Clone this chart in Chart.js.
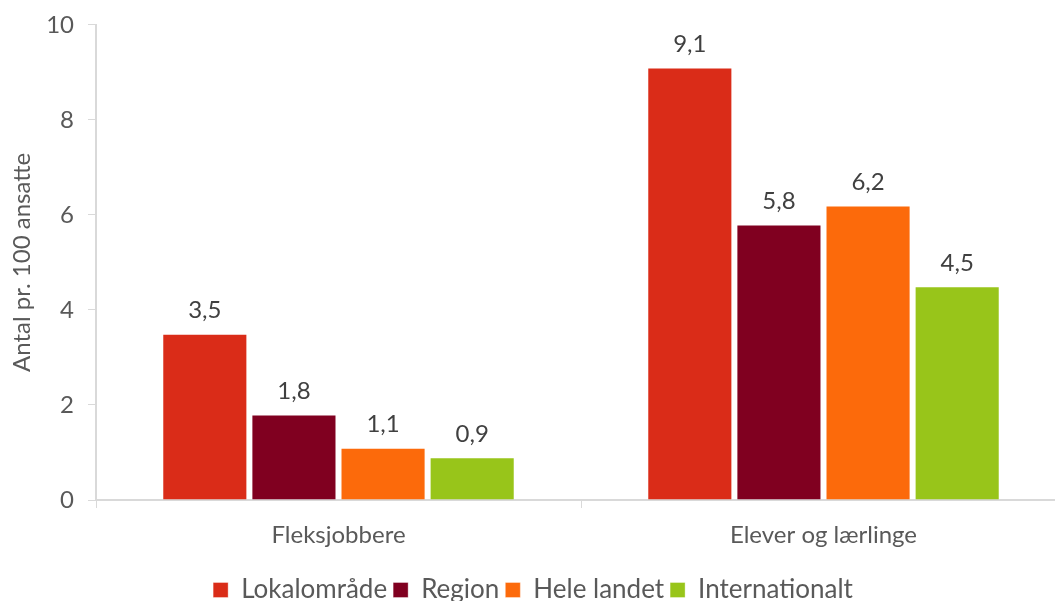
<!DOCTYPE html>
<html>
<head>
<meta charset="utf-8">
<script src="https://cdn.jsdelivr.net/npm/chart.js@4"></script>
<style>
  html, body { margin: 0; padding: 0; background: #fff; overflow: hidden; }
  #wrap { width: 1066px; height: 613px; }
</style>
</head>
<body>
<div id="wrap"><canvas id="chart"></canvas></div>
<script>
const categories = ["Fleksjobbere", "Elever og lærlinge"];
const lokalomraade = [3.5, 9.1];
const region = [1.8, 5.8];
const heleLandet = [1.1, 6.2];
const internationalt = [0.9, 4.5];
const yTicks = [0, 2, 4, 6, 8, 10];

const textColor = "#595959";
const axisColor = "#d9d9d9";

// draws the value above each bar, with decimal comma
const valueLabels = {
  id: "valueLabels",
  afterDatasetsDraw(chart) {
    const ctx = chart.ctx;
    ctx.save();
    ctx.font = "24px Lato";
    ctx.fillStyle = "#404040";
    ctx.textAlign = "center";
    ctx.textBaseline = "bottom";
    chart.data.datasets.forEach((ds, i) => {
      chart.getDatasetMeta(i).data.forEach((bar, j) => {
        ctx.fillText(ds.data[j].toFixed(1).replace(".", ","), bar.x, bar.y - 11);
      });
    });
    ctx.restore();
  },
};

const bar = (label, data, color) => ({
  label,
  data,
  backgroundColor: color,
  borderColor: "rgba(255,255,255,0.35)",
  borderWidth: 1,
  categoryPercentage: 0.735,
  barPercentage: 0.955,
});

new Chart(document.getElementById("chart"), {
  type: "bar",
  data: {
    labels: categories,
    datasets: [
      bar("Lokalområde", lokalomraade, "#da2c18"),
      bar("Region", region, "#800020"),
      bar("Hele landet", heleLandet, "#fc6a0b"),
      bar("Internationalt", internationalt, "#98c51a"),
    ],
  },
  options: {
    responsive: true,
    maintainAspectRatio: false,
    animation: false,
    layout: { padding: 0 },
    plugins: {
      tooltip: { enabled: false },
      legend: {
        position: "bottom",
        labels: {
          font: { family: "Lato", size: 26 },
          color: textColor,
          boxWidth: 15,
          boxHeight: 15,
          padding: 6,
        },
      },
    },
    scales: {
      x: {
        afterFit: (scale) => { scale.height = 71; },
        grid: {
          display: true,
          offset: true,
          drawOnChartArea: false,
          color: axisColor,
          tickLength: 8,
        },
        border: { color: axisColor, width: 2 },
        ticks: {
          font: { family: "Lato", size: 24 },
          color: textColor,
          padding: 13,
        },
      },
      y: {
        min: 0,
        max: 10,
        afterBuildTicks: (axis) => { axis.ticks = yTicks.map((v) => ({ value: v })); },
        afterFit: (scale) => { scale.width = 96; },
        grid: {
          display: true,
          drawOnChartArea: false,
          color: axisColor,
          tickLength: 8,
        },
        border: { color: axisColor, width: 2 },
        ticks: {
          font: { family: "Lato", size: 24, lineHeight: 0.9 },
          color: textColor,
          padding: 14,
        },
        title: {
          display: true,
          text: "Antal pr. 100 ansatte",
          font: { family: "Lato", size: 24 },
          color: textColor,
          padding: { top: 8, bottom: 0 },
        },
      },
    },
  },
  plugins: [valueLabels],
});
</script>
</body>
</html>
